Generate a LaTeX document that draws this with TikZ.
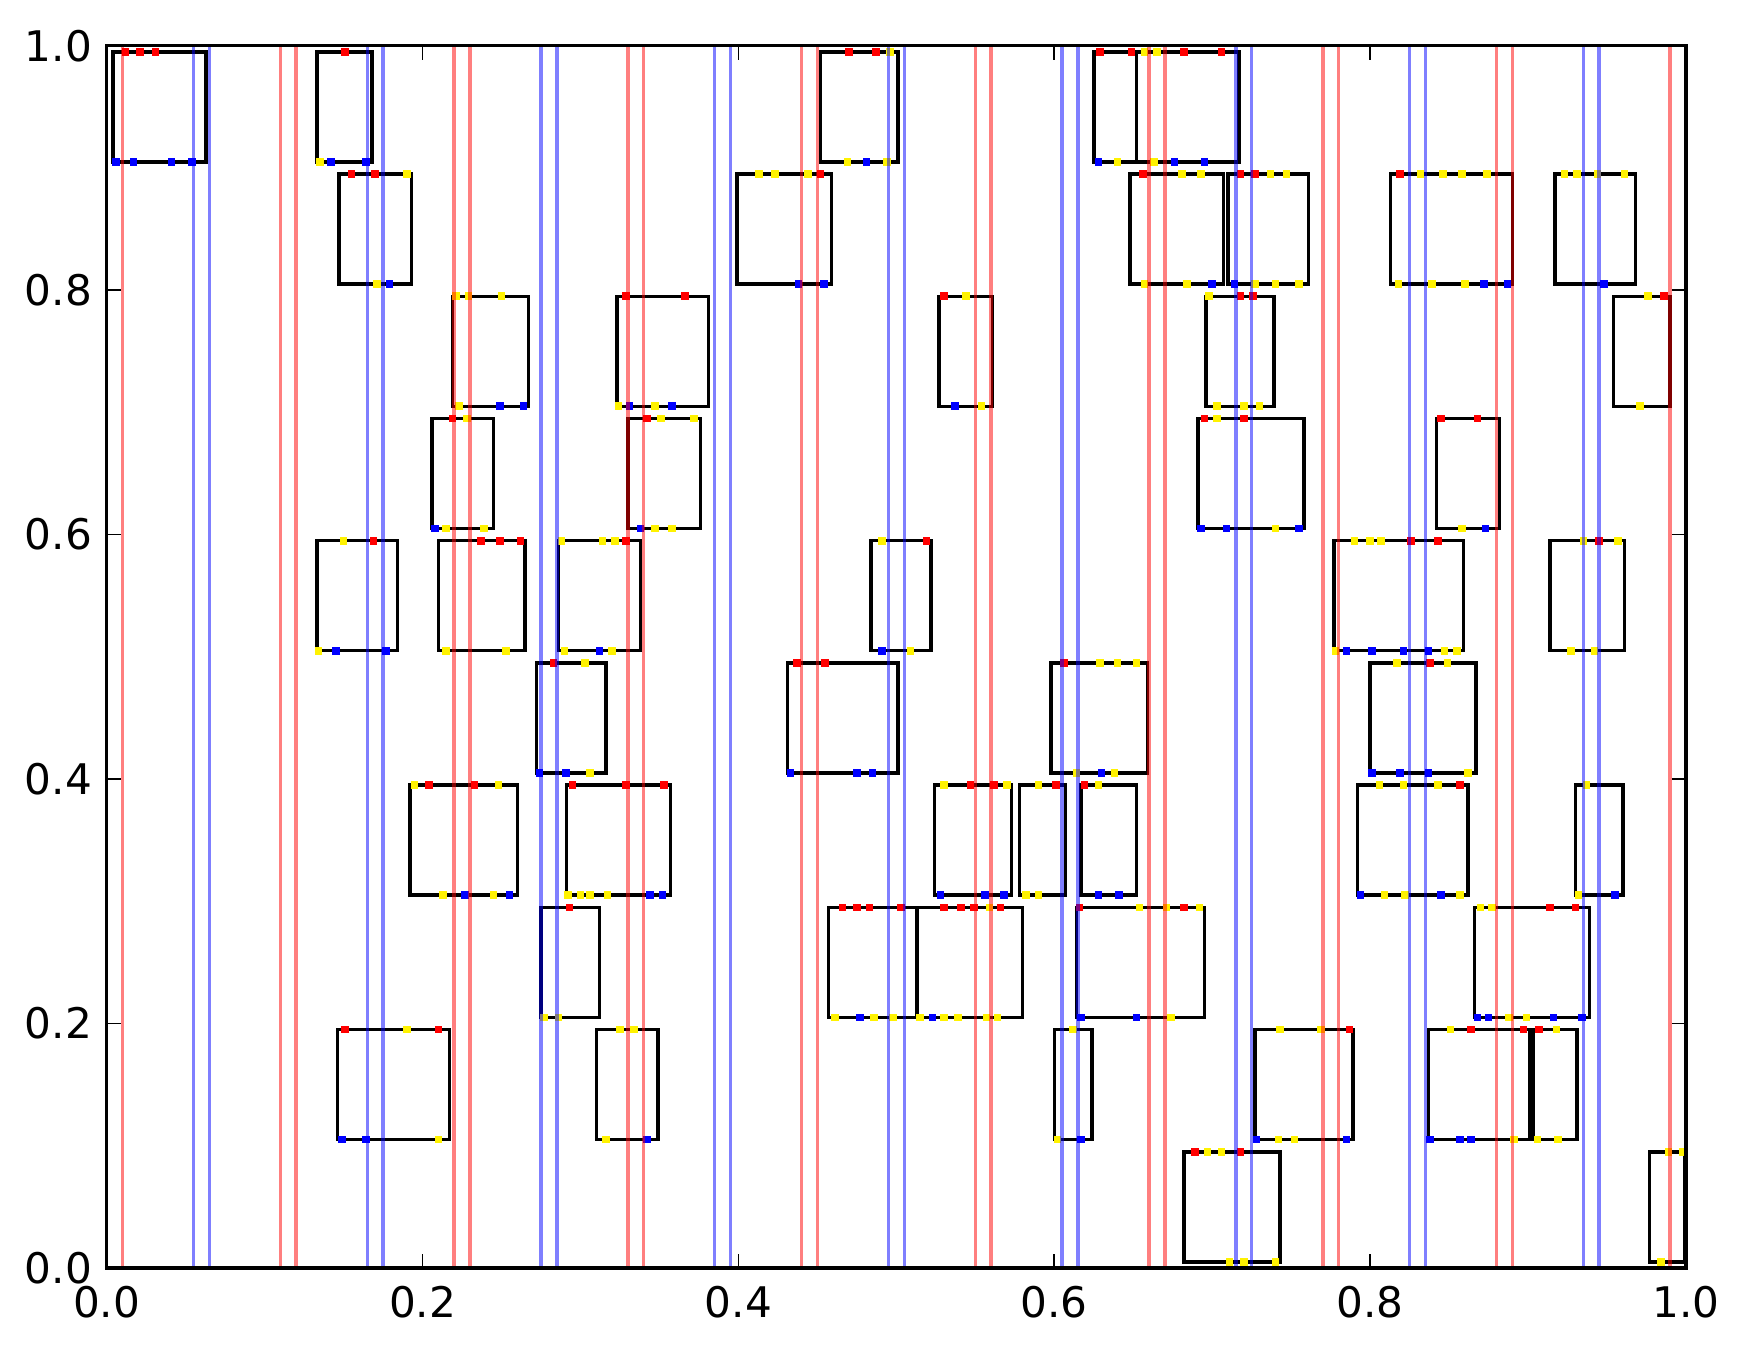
\documentclass[tikz,border=0pt]{standalone}
\usepackage{fontspec}
\setmainfont{DejaVu Sans}
\begin{document}
\begin{tikzpicture}

    \tikzset{
      cell/.style={draw=black, line width=1pt},
      rpt/.style={fill=red},
      bpt/.style={fill=blue},
      ypt/.style={fill=yellow},
      redline/.style={draw=red, opacity=0.5, line width=1pt},
      blueline/.style={draw=blue, opacity=0.5, line width=1pt},
      axtick/.style={black, line width=0.5pt},
      ticklabel/.style={inner sep=0pt, font=\fontsize{12}{14}\selectfont},
    }
    \useasboundingbox (0,0) rectangle (17.46,13.5);

  \begin{scope}[shift={(1.067,0.82)}, x=15.793cm, y=12.223cm]

	% row 0.905 -- 0.995
	\draw[cell] (0.004,0.905) rectangle (0.063,0.995);
	\draw[cell] (0.133,0.905) rectangle (0.168,0.995);
	\draw[cell] (0.452,0.905) rectangle (0.501,0.995);
	\draw[cell] (0.625,0.905) rectangle (0.652,0.995);
	\draw[cell] (0.652,0.905) rectangle (0.717,0.995);
	\foreach \x in {0.012,0.021,0.031,0.151,0.470,0.487,0.629,0.649,0.682,0.706}
	  \fill[rpt] (\x,0.995) +(-0.038cm,-0.038cm) rectangle +(0.038cm,0.038cm);
	\foreach \x in {0.496,0.657,0.665}
	  \fill[ypt] (\x,0.995) +(-0.038cm,-0.038cm) rectangle +(0.038cm,0.038cm);
	\foreach \x in {0.006,0.017,0.041,0.054,0.142,0.164,0.481,0.628,0.676,0.695}
	  \fill[bpt] (\x,0.905) +(-0.038cm,-0.038cm) rectangle +(0.038cm,0.038cm);
	\foreach \x in {0.135,0.469,0.494,0.640,0.663}
	  \fill[ypt] (\x,0.905) +(-0.038cm,-0.038cm) rectangle +(0.038cm,0.038cm);

	% row 0.805 -- 0.895
	\draw[cell] (0.147,0.805) rectangle (0.193,0.895);
	\draw[cell] (0.399,0.805) rectangle (0.459,0.895);
	\draw[cell] (0.648,0.805) rectangle (0.707,0.895);
	\draw[cell] (0.710,0.805) rectangle (0.761,0.895);
	\draw[cell] (0.813,0.805) rectangle (0.890,0.895);
	\draw[cell] (0.917,0.805) rectangle (0.968,0.895);
	\foreach \x in {0.155,0.170,0.452,0.656,0.718,0.727,0.819}
	  \fill[rpt] (\x,0.895) +(-0.038cm,-0.038cm) rectangle +(0.038cm,0.038cm);
	\foreach \x in {0.190,0.413,0.423,0.444,0.681,0.693,0.737,0.747,0.832,0.846,0.858,0.874,0.923,0.931,0.944,0.961}
	  \fill[ypt] (\x,0.895) +(-0.038cm,-0.038cm) rectangle +(0.038cm,0.038cm);
	\foreach \x in {0.179,0.438,0.454,0.700,0.714,0.872,0.887,0.948}
	  \fill[bpt] (\x,0.805) +(-0.038cm,-0.038cm) rectangle +(0.038cm,0.038cm);
	\foreach \x in {0.171,0.657,0.684,0.727,0.740,0.755,0.818,0.839,0.860}
	  \fill[ypt] (\x,0.805) +(-0.038cm,-0.038cm) rectangle +(0.038cm,0.038cm);

	% row 0.705 -- 0.795
	\draw[cell] (0.219,0.705) rectangle (0.267,0.795);
	\draw[cell] (0.323,0.705) rectangle (0.381,0.795);
	\draw[cell] (0.527,0.705) rectangle (0.561,0.795);
	\draw[cell] (0.696,0.705) rectangle (0.739,0.795);
	\draw[cell] (0.954,0.705) rectangle (0.990,0.795);
	\foreach \x in {0.329,0.366,0.530,0.718,0.726,0.986}
	  \fill[rpt] (\x,0.795) +(-0.038cm,-0.038cm) rectangle +(0.038cm,0.038cm);
	\foreach \x in {0.221,0.229,0.250,0.544,0.698,0.976}
	  \fill[ypt] (\x,0.795) +(-0.038cm,-0.038cm) rectangle +(0.038cm,0.038cm);
	\foreach \x in {0.249,0.264,0.331,0.358,0.537}
	  \fill[bpt] (\x,0.705) +(-0.038cm,-0.038cm) rectangle +(0.038cm,0.038cm);
	\foreach \x in {0.223,0.324,0.347,0.554,0.703,0.720,0.730,0.971}
	  \fill[ypt] (\x,0.705) +(-0.038cm,-0.038cm) rectangle +(0.038cm,0.038cm);

	% row 0.605 -- 0.695
	\draw[cell] (0.206,0.605) rectangle (0.245,0.695);
	\draw[cell] (0.330,0.605) rectangle (0.376,0.695);
	\draw[cell] (0.691,0.605) rectangle (0.758,0.695);
	\draw[cell] (0.842,0.605) rectangle (0.882,0.695);
	\foreach \x in {0.219,0.342,0.695,0.720,0.845,0.868}
	  \fill[rpt] (\x,0.695) +(-0.038cm,-0.038cm) rectangle +(0.038cm,0.038cm);
	\foreach \x in {0.228,0.351,0.372,0.703}
	  \fill[ypt] (\x,0.695) +(-0.038cm,-0.038cm) rectangle +(0.038cm,0.038cm);
	\foreach \x in {0.208,0.338,0.693,0.709,0.755,0.873}
	  \fill[bpt] (\x,0.605) +(-0.038cm,-0.038cm) rectangle +(0.038cm,0.038cm);
	\foreach \x in {0.215,0.239,0.347,0.358,0.740,0.858}
	  \fill[ypt] (\x,0.605) +(-0.038cm,-0.038cm) rectangle +(0.038cm,0.038cm);

	% row 0.505 -- 0.595
	\draw[cell] (0.133,0.505) rectangle (0.184,0.595);
	\draw[cell] (0.210,0.505) rectangle (0.265,0.595);
	\draw[cell] (0.286,0.505) rectangle (0.338,0.595);
	\draw[cell] (0.484,0.505) rectangle (0.522,0.595);
	\draw[cell] (0.777,0.505) rectangle (0.859,0.595);
	\draw[cell] (0.914,0.505) rectangle (0.961,0.595);
	\foreach \x in {0.169,0.237,0.249,0.262,0.329,0.519,0.826,0.843,0.945}
	  \fill[rpt] (\x,0.595) +(-0.038cm,-0.038cm) rectangle +(0.038cm,0.038cm);
	\foreach \x in {0.150,0.288,0.314,0.322,0.491,0.790,0.800,0.807,0.935,0.957}
	  \fill[ypt] (\x,0.595) +(-0.038cm,-0.038cm) rectangle +(0.038cm,0.038cm);
	\foreach \x in {0.145,0.177,0.312,0.491,0.785,0.801,0.821,0.837}
	  \fill[bpt] (\x,0.505) +(-0.038cm,-0.038cm) rectangle +(0.038cm,0.038cm);
	\foreach \x in {0.134,0.215,0.253,0.290,0.320,0.509,0.778,0.847,0.855,0.927,0.942}
	  \fill[ypt] (\x,0.505) +(-0.038cm,-0.038cm) rectangle +(0.038cm,0.038cm);

	% row 0.405 -- 0.495
	\draw[cell] (0.272,0.405) rectangle (0.316,0.495);
	\draw[cell] (0.431,0.405) rectangle (0.501,0.495);
	\draw[cell] (0.598,0.405) rectangle (0.659,0.495);
	\draw[cell] (0.800,0.405) rectangle (0.867,0.495);
	\foreach \x in {0.283,0.437,0.455,0.606,0.838}
	  \fill[rpt] (\x,0.495) +(-0.038cm,-0.038cm) rectangle +(0.038cm,0.038cm);
	\foreach \x in {0.303,0.629,0.640,0.652,0.817,0.849}
	  \fill[ypt] (\x,0.495) +(-0.038cm,-0.038cm) rectangle +(0.038cm,0.038cm);
	\foreach \x in {0.274,0.291,0.433,0.475,0.485,0.630,0.801,0.819,0.837}
	  \fill[bpt] (\x,0.405) +(-0.038cm,-0.038cm) rectangle +(0.038cm,0.038cm);
	\foreach \x in {0.306,0.614,0.638,0.862}
	  \fill[ypt] (\x,0.405) +(-0.038cm,-0.038cm) rectangle +(0.038cm,0.038cm);

	% row 0.305 -- 0.395
	\draw[cell] (0.192,0.305) rectangle (0.260,0.395);
	\draw[cell] (0.291,0.305) rectangle (0.357,0.395);
	\draw[cell] (0.524,0.305) rectangle (0.573,0.395);
	\draw[cell] (0.578,0.305) rectangle (0.607,0.395);
	\draw[cell] (0.617,0.305) rectangle (0.652,0.395);
	\draw[cell] (0.792,0.305) rectangle (0.862,0.395);
	\draw[cell] (0.930,0.305) rectangle (0.960,0.395);
	\foreach \x in {0.204,0.233,0.295,0.329,0.353,0.547,0.562,0.601,0.619,0.857}
	  \fill[rpt] (\x,0.395) +(-0.038cm,-0.038cm) rectangle +(0.038cm,0.038cm);
	\foreach \x in {0.195,0.248,0.530,0.570,0.590,0.628,0.806,0.821,0.843,0.937}
	  \fill[ypt] (\x,0.395) +(-0.038cm,-0.038cm) rectangle +(0.038cm,0.038cm);
	\foreach \x in {0.227,0.255,0.344,0.352,0.528,0.556,0.568,0.628,0.641,0.794,0.845,0.955}
	  \fill[bpt] (\x,0.305) +(-0.038cm,-0.038cm) rectangle +(0.038cm,0.038cm);
	\foreach \x in {0.213,0.245,0.292,0.300,0.306,0.317,0.582,0.590,0.809,0.822,0.857,0.932}
	  \fill[ypt] (\x,0.305) +(-0.038cm,-0.038cm) rectangle +(0.038cm,0.038cm);

	% row 0.205 -- 0.295
	\draw[cell] (0.275,0.205) rectangle (0.312,0.295);
	\draw[cell] (0.457,0.205) rectangle (0.513,0.295);
	\draw[cell] (0.513,0.205) rectangle (0.580,0.295);
	\draw[cell] (0.614,0.205) rectangle (0.695,0.295);
	\draw[cell] (0.866,0.205) rectangle (0.939,0.295);
	\foreach \x in {0.293,0.466,0.475,0.483,0.503,0.530,0.541,0.549,0.566,0.616,0.682,0.914,0.930}
	  \fill[rpt] (\x,0.295) +(-0.038cm,-0.038cm) rectangle +(0.038cm,0.038cm);
	\foreach \x in {0.559,0.654,0.671,0.692,0.870,0.877}
	  \fill[ypt] (\x,0.295) +(-0.038cm,-0.038cm) rectangle +(0.038cm,0.038cm);
	\foreach \x in {0.477,0.523,0.617,0.652,0.868,0.875,0.916,0.934}
	  \fill[bpt] (\x,0.205) +(-0.038cm,-0.038cm) rectangle +(0.038cm,0.038cm);
	\foreach \x in {0.277,0.286,0.461,0.486,0.498,0.515,0.530,0.539,0.557,0.564,0.674,0.888,0.899}
	  \fill[ypt] (\x,0.205) +(-0.038cm,-0.038cm) rectangle +(0.038cm,0.038cm);

	% row 0.105 -- 0.195
	\draw[cell] (0.146,0.105) rectangle (0.217,0.195);
	\draw[cell] (0.310,0.105) rectangle (0.349,0.195);
	\draw[cell] (0.600,0.105) rectangle (0.624,0.195);
	\draw[cell] (0.727,0.105) rectangle (0.789,0.195);
	\draw[cell] (0.837,0.105) rectangle (0.901,0.195);
	\draw[cell] (0.903,0.105) rectangle (0.931,0.195);
	\foreach \x in {0.151,0.210,0.787,0.864,0.897,0.907}
	  \fill[rpt] (\x,0.195) +(-0.038cm,-0.038cm) rectangle +(0.038cm,0.038cm);
	\foreach \x in {0.190,0.325,0.334,0.612,0.743,0.769,0.851,0.918}
	  \fill[ypt] (\x,0.195) +(-0.038cm,-0.038cm) rectangle +(0.038cm,0.038cm);
	\foreach \x in {0.149,0.164,0.342,0.617,0.728,0.785,0.838,0.857,0.864}
	  \fill[bpt] (\x,0.105) +(-0.038cm,-0.038cm) rectangle +(0.038cm,0.038cm);
	\foreach \x in {0.210,0.316,0.602,0.742,0.752,0.891,0.906,0.919}
	  \fill[ypt] (\x,0.105) +(-0.038cm,-0.038cm) rectangle +(0.038cm,0.038cm);

	% row 0.005 -- 0.095
	\draw[cell] (0.682,0.005) rectangle (0.743,0.095);
	\draw[cell] (0.977,0.005) rectangle (0.999,0.095);
	\foreach \x in {0.689,0.718}
	  \fill[rpt] (\x,0.095) +(-0.038cm,-0.038cm) rectangle +(0.038cm,0.038cm);
	\foreach \x in {0.697,0.706,0.989,0.998}
	  \fill[ypt] (\x,0.095) +(-0.038cm,-0.038cm) rectangle +(0.038cm,0.038cm);
	\foreach \x in {0.711,0.720,0.740,0.984}
	  \fill[ypt] (\x,0.005) +(-0.038cm,-0.038cm) rectangle +(0.038cm,0.038cm);

	% vertical lines
	\draw[redline] (0.01,0)--(0.01,1);
	\draw[redline] (0.11,0)--(0.11,1);
	\draw[redline] (0.12,0)--(0.12,1);
	\draw[redline] (0.22,0)--(0.22,1);
	\draw[redline] (0.23,0)--(0.23,1);
	\draw[redline] (0.33,0)--(0.33,1);
	\draw[redline] (0.34,0)--(0.34,1);
	\draw[redline] (0.44,0)--(0.44,1);
	\draw[redline] (0.45,0)--(0.45,1);
	\draw[redline] (0.55,0)--(0.55,1);
	\draw[redline] (0.56,0)--(0.56,1);
	\draw[redline] (0.66,0)--(0.66,1);
	\draw[redline] (0.67,0)--(0.67,1);
	\draw[redline] (0.77,0)--(0.77,1);
	\draw[redline] (0.78,0)--(0.78,1);
	\draw[redline] (0.88,0)--(0.88,1);
	\draw[redline] (0.89,0)--(0.89,1);
	\draw[redline] (0.99,0)--(0.99,1);
	\draw[blueline] (0.055,0)--(0.055,1);
	\draw[blueline] (0.065,0)--(0.065,1);
	\draw[blueline] (0.165,0)--(0.165,1);
	\draw[blueline] (0.175,0)--(0.175,1);
	\draw[blueline] (0.275,0)--(0.275,1);
	\draw[blueline] (0.285,0)--(0.285,1);
	\draw[blueline] (0.385,0)--(0.385,1);
	\draw[blueline] (0.395,0)--(0.395,1);
	\draw[blueline] (0.495,0)--(0.495,1);
	\draw[blueline] (0.505,0)--(0.505,1);
	\draw[blueline] (0.605,0)--(0.605,1);
	\draw[blueline] (0.615,0)--(0.615,1);
	\draw[blueline] (0.715,0)--(0.715,1);
	\draw[blueline] (0.725,0)--(0.725,1);
	\draw[blueline] (0.825,0)--(0.825,1);
	\draw[blueline] (0.835,0)--(0.835,1);
	\draw[blueline] (0.935,0)--(0.935,1);
	\draw[blueline] (0.945,0)--(0.945,1);

	% frame and ticks
	\draw[axtick] (0.2,0)--++(0,0.14cm);  \draw[axtick] (0.2,1)--++(0,-0.14cm);
	\draw[axtick] (0.4,0)--++(0,0.14cm);  \draw[axtick] (0.4,1)--++(0,-0.14cm);
	\draw[axtick] (0.6,0)--++(0,0.14cm);  \draw[axtick] (0.6,1)--++(0,-0.14cm);
	\draw[axtick] (0.8,0)--++(0,0.14cm);  \draw[axtick] (0.8,1)--++(0,-0.14cm);
	\draw[axtick] (0,0.2)--++(0.14cm,0);  \draw[axtick] (1,0.2)--++(-0.14cm,0);
	\draw[axtick] (0,0.4)--++(0.14cm,0);  \draw[axtick] (1,0.4)--++(-0.14cm,0);
	\draw[axtick] (0,0.6)--++(0.14cm,0);  \draw[axtick] (1,0.6)--++(-0.14cm,0);
	\draw[axtick] (0,0.8)--++(0.14cm,0);  \draw[axtick] (1,0.8)--++(-0.14cm,0);
	\draw[line width=1pt] (0,0) rectangle (1,1);

	\node[ticklabel, anchor=north, yshift=-0.17cm] (xl0) at (0,0) {0.0};
	\node[ticklabel, anchor=north, yshift=-0.17cm] (xl2) at (0.2,0) {0.2};
	\node[ticklabel, anchor=north, yshift=-0.17cm] (xl4) at (0.4,0) {0.4};
	\node[ticklabel, anchor=north, yshift=-0.17cm] (xl6) at (0.6,0) {0.6};
	\node[ticklabel, anchor=north, yshift=-0.17cm] (xl8) at (0.8,0) {0.8};
	\node[ticklabel, anchor=north, yshift=-0.17cm] (xl10) at (1,0) {1.0};
	\node[ticklabel, anchor=east, xshift=-0.14cm] (yl0) at (0,0) {0.0};
	\node[ticklabel, anchor=east, xshift=-0.14cm] (yl2) at (0,0.2) {0.2};
	\node[ticklabel, anchor=east, xshift=-0.14cm] (yl4) at (0,0.4) {0.4};
	\node[ticklabel, anchor=east, xshift=-0.14cm] (yl6) at (0,0.6) {0.6};
	\node[ticklabel, anchor=east, xshift=-0.14cm] (yl8) at (0,0.8) {0.8};
	\node[ticklabel, anchor=east, xshift=-0.14cm] (yl10) at (0,1) {1.0};

  \end{scope}

\end{tikzpicture}
\end{document}
